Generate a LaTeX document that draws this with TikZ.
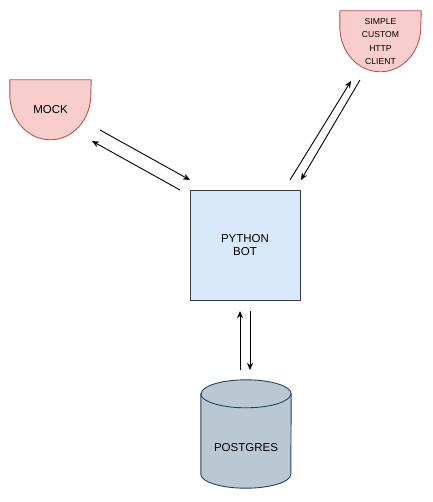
\documentclass[tikz,border=0pt]{standalone}
\usepackage{fontspec}
\setmainfont{Liberation Sans}
\usetikzlibrary{arrows.meta,positioning,calc,backgrounds}
\definecolor{pinkfill}{HTML}{F8CECC}
\definecolor{pinkline}{HTML}{B85450}
\definecolor{bluefill}{HTML}{DAE8FC}
\definecolor{boxline}{HTML}{36393D}
\definecolor{dbfill}{HTML}{BAC8D3}
\definecolor{dbline}{HTML}{23445D}
\tikzstyle{link} = [draw, line width=0.9pt, -{Stealth[length=7pt,width=6pt,inset=2pt]}]
\tikzset{
  service/.style={minimum width=81pt, minimum height=60pt, inner sep=0pt, align=center},
  pinkpath/.style={draw=pinkline, fill=pinkfill, line width=0.9pt},
  botbox/.style={draw=boxline, fill=bluefill, line width=0.9pt, minimum size=110pt, inner sep=0pt, align=center},
  dbbody/.style={minimum width=90pt, minimum height=80pt, inner sep=0pt},
  dbpath/.style={draw=dbline, fill=dbfill, line width=0.9pt},
  bigtext/.style={font=\fontsize{11.5}{13.5}\selectfont},
  smalltext/.style={font=\fontsize{8.6}{13.3}\selectfont}
}

\begin{document}
\begin{tikzpicture}[x=1pt,y=-1pt]
      \useasboundingbox (0,0) rectangle (432,502);

      \node [service,bigtext] (mock) at (50.5,110) {MOCK};
      \node [service,smalltext,minimum height=61pt] (client) at (380.5,41.5) {SIMPLE\\CUSTOM\\HTTP\\CLIENT};
      \node [botbox,bigtext] (bot) at (245,245) {PYTHON\\BOT};
      \node [dbbody,bigtext] (db) at (246,448) {POSTGRES};

      \begin{scope}[on background layer]
        \path [pinkpath] (mock.north west) -- ++(0,-15pt) arc [start angle=180, end angle=360, x radius=40.5pt, y radius=45pt] -- (mock.north east) -- cycle;
        \path [pinkpath] (client.north west) -- ++(0,-16pt) arc [start angle=180, end angle=360, x radius=40.5pt, y radius=45pt] -- (client.north east) -- cycle;
        \path [dbpath] ($(db.north west)+(0,14pt)$) -- ($(db.south west)+(0,14pt)$) arc [start angle=180, end angle=360, x radius=45pt, y radius=14pt] -- ($(db.north east)+(0,14pt)$) arc [start angle=0, end angle=180, x radius=45pt, y radius=14pt] -- cycle;
        \draw [dbline,line width=0.9pt] ($(db.north west)+(0,14pt)$) arc [start angle=180, end angle=360, x radius=45pt, y radius=14pt];
      \end{scope}

      % arrow ends
      \coordinate (mockA) at (100,130);
      \coordinate (botA) at (190,180);
      \coordinate (botB) at (180,190);
      \coordinate (mockB) at (92,141);
      \coordinate (botC) at (290,180);
      \coordinate (clientC) at (351,81);
      \coordinate (clientD) at (360,80);
      \coordinate (botD) at (301,180);
      \coordinate (botE) at (250,311);
      \coordinate (dbE) at (250,370);
      \coordinate (dbF) at (240,370);
      \coordinate (botF) at (240,311);

      \path [link] (mockA) -- (botA);
      \path [link] (botB) -- (mockB);
      \path [link] (botC) -- (clientC);
      \path [link] (clientD) -- (botD);
      \path [link] (botE) -- (dbE);
      \path [link] (dbF) -- (botF);
\end{tikzpicture}
\end{document}
